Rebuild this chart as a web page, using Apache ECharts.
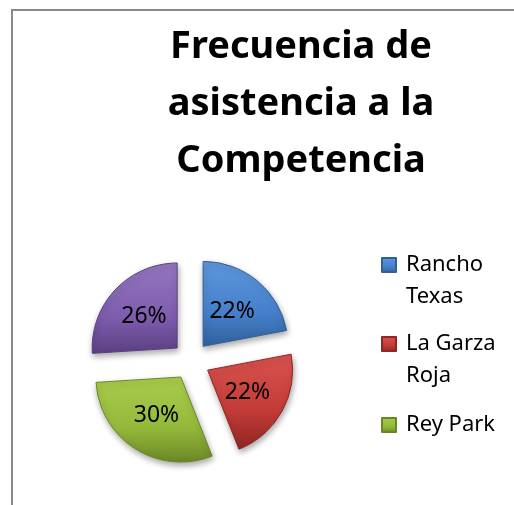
<!DOCTYPE html>
<html>
<head>
<meta charset="utf-8">
<script src="https://cdn.jsdelivr.net/npm/echarts@6/dist/echarts.min.js"></script>
<style>
  html, body { margin: 0; padding: 0; background: #fff; }
  #frame {
    position: absolute; left: 11px; top: 9px; width: 700px; height: 700px;
    border-left: 2px solid #8a8a8a; border-top: 2px solid #8a8a8a;
  }
  #chart { position: absolute; left: 0; top: 0; width: 514px; height: 505px; }
</style>
</head>
<body>
<div id="frame"></div>
<div id="chart"></div>
<script>
// datos
var titulo = "Frecuencia de\nasistencia a la\nCompetencia";
var lugares = ["Rancho Texas", "La Garza Roja", "Rey Park", "Otros"];
var porcentajes = [22, 22, 30, 26];
var leyenda = ["Rancho Texas", "La Garza Roja", "Rey Park"];
// la primera linea vacia deja el texto alineado con el icono
var etiquetasLeyenda = { "Rancho Texas": "\nRancho\nTexas", "La Garza Roja": "\nLa Garza\nRoja", "Rey Park": "Rey Park" };
var topLeyenda = [217, 296, 409];

// colores estilo office con bisel
var colores = [
  ["#5e97dc", "#4680cc", "#30609a"],
  ["#d9534f", "#c23b37", "#8f2623"],
  ["#a9cc4c", "#94b93a", "#6a8726"],
  ["#9477bf", "#7e5cae", "#5a4082"]
];

function relleno(c) {
  return {
    type: "linear", x: 0, y: 0, x2: 0, y2: 1,
    colorStops: [
      { offset: 0, color: c[0] },
      { offset: 0.6, color: c[1] },
      { offset: 1, color: c[2] }
    ]
  };
}

var datos = [];
for (var i = 0; i < lugares.length; i++) {
  datos.push({
    name: lugares[i],
    value: porcentajes[i],
    selected: true,
    itemStyle: { color: relleno(colores[i]), borderColor: colores[i][2] }
  });
}

// una leyenda por elemento para controlar la separacion
var leyendas = leyenda.map(function (n, k) {
  return {
    orient: "vertical",
    left: 381,
    top: topLeyenda[k],
    padding: 0,
    itemWidth: 14,
    itemHeight: 14,
    icon: "rect",
    selectedMode: false,
    data: [n],
    formatter: function (name) { return etiquetasLeyenda[name]; },
    textStyle: {
      fontFamily: "Noto Sans",
      fontSize: 22,
      lineHeight: 32,
      padding: [0, 0, 0, 5],
      color: "#000"
    }
  };
});

var myChart = echarts.init(document.getElementById("chart"), null, { renderer: "canvas" });
var option = {
  backgroundColor: "transparent",
  animation: false,
  color: colores.map(function (c) { return c[1]; }),
  title: {
    text: titulo,
    left: 296,
    top: 14,
    textAlign: "center",
    textStyle: {
      fontFamily: "Noto Sans",
      fontWeight: "bold",
      fontSize: 38,
      lineHeight: 57,
      color: "#000"
    }
  },
  legend: leyendas,
  series: [
    {
      type: "pie",
      center: [191, 361],
      radius: [0, 85],
      startAngle: 90,
      clockwise: true,
      selectedMode: "multiple",
      selectedOffset: 19,
      silent: true,
      label: {
        show: true,
        position: "inside",
        formatter: "{c}%",
        fontFamily: "Noto Sans",
        fontSize: 23,
        color: "#000"
      },
      labelLine: { show: false },
      itemStyle: {
        borderWidth: 1,
        shadowBlur: 6,
        shadowOffsetX: 1,
        shadowOffsetY: 3,
        shadowColor: "rgba(0,0,0,0.35)"
      },
      emphasis: { disabled: true },
      data: datos
    }
  ]
};
myChart.setOption(option);
</script>
</body>
</html>
